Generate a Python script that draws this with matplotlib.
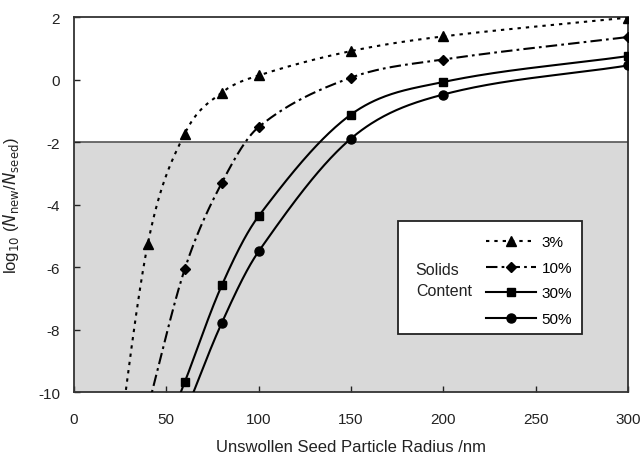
import numpy as np
import matplotlib
matplotlib.use("Agg")
import matplotlib.pyplot as plt
from matplotlib.patches import Rectangle
from matplotlib.lines import Line2D

plt.rcParams['font.family'] = ['Liberation Sans', 'DejaVu Sans']

# ---- data ----
radius_3 = [20, 40, 60, 80, 100, 150, 200, 300]
logN_3 = [-13.5, -5.25, -1.73, -0.42, 0.13, 0.91, 1.38, 1.98]

radius_10 = [40, 60, 80, 100, 150, 200, 300]
logN_10 = [-10.5, -6.06, -3.31, -1.52, 0.06, 0.64, 1.36]

radius_30 = [50, 60, 80, 100, 150, 200, 300]
logN_30 = [-11.2, -9.68, -6.59, -4.37, -1.12, -0.08, 0.75]

radius_50 = [60, 80, 100, 150, 200, 300]
logN_50 = [-10.7, -7.79, -5.50, -1.89, -0.48, 0.45]

labels = ['3%', '10%', '30%', '50%']
threshold = -2
xticks = [0, 50, 100, 150, 200, 250, 300]
yticks = [2, 0, -2, -4, -6, -8, -10]

XLIM = (0, 300)
YLIM = (-10, 2)


def smooth(xs, ys, n=60):
    """Cardinal-type cubic Hermite spline (centred-difference slopes,
    monotonicity-limited) through the data points."""
    x = np.asarray(xs, float)
    y = np.asarray(ys, float)
    h = np.diff(x)
    m = np.diff(y) / h
    d = np.zeros_like(x)
    d[0] = m[0]
    d[-1] = m[-1]
    for k in range(1, len(x) - 1):
        d[k] = (y[k + 1] - y[k - 1]) / (x[k + 1] - x[k - 1])
    for k in range(len(m)):
        if m[k] == 0:
            d[k] = d[k + 1] = 0
            continue
        a, b = d[k] / m[k], d[k + 1] / m[k]
        s = a * a + b * b
        if s > 9:
            t = 3 / np.sqrt(s)
            d[k] = t * a * m[k]
            d[k + 1] = t * b * m[k]
    X, Y = [], []
    for k in range(len(x) - 1):
        t = np.linspace(0, 1, n)
        h00 = 2 * t ** 3 - 3 * t ** 2 + 1
        h10 = t ** 3 - 2 * t ** 2 + t
        h01 = -2 * t ** 3 + 3 * t ** 2
        h11 = t ** 3 - t ** 2
        yy = h00 * y[k] + h10 * h[k] * d[k] + h01 * y[k + 1] + h11 * h[k] * d[k + 1]
        xx = x[k] + t * h[k]
        if k > 0:
            xx, yy = xx[1:], yy[1:]
        X.append(xx)
        Y.append(yy)
    return np.concatenate(X), np.concatenate(Y)


fig = plt.figure(figsize=(6.42, 4.56), dpi=100)
ax = fig.add_axes([0.1153, 0.138, 0.8627, 0.8225])
ax.set_xlim(*XLIM)
ax.set_ylim(*YLIM)

# shaded region below threshold
ax.axhspan(YLIM[0], threshold, facecolor='#d9d9d9', edgecolor='none', zorder=0)
ax.axhline(threshold, color='#555555', lw=1.2, zorder=1)

series = [
    (radius_3, logN_3, (0, (1.6, 2.4)), '^', 7),
    (radius_10, logN_10, (0, (5.5, 2, 1.3, 2)), 'D', 5.5),
    (radius_30, logN_30, '-', 's', 6.3),
    (radius_50, logN_50, '-', 'o', 6.5),
]

handles = []
for (xs, ys, ls, mk, ms), lab in zip(series, labels):
    cx, cy = smooth(xs, ys)
    ax.plot(cx, cy, color='black', lw=1.5, linestyle=ls, zorder=3)
    ax.plot(xs, ys, linestyle='none', marker=mk, color='black', ms=ms, zorder=4)
    handles.append(Line2D([0], [0], color='black', lw=1.5, linestyle=ls, marker=mk, ms=ms))

ax.set_xticks(xticks)
ax.set_yticks(yticks)
ax.set_yticklabels([str(v) for v in yticks])
ax.set_xticklabels([str(v) for v in xticks])
ax.tick_params(direction='in', length=4, width=1, labelsize=11, pad=10, colors='#222222')
ax.tick_params(axis='x', pad=14)
for sp in ax.spines.values():
    sp.set_color('#333333')
    sp.set_linewidth(1.3)

ax.set_xlabel('Unswollen Seed Particle Radius /nm', fontsize=12, labelpad=9.5, color='#222222')
ax.set_ylabel(r'log$_{10}$ ($\mathit{N}_{\rm new}$/$\mathit{N}_{\rm seed}$)', fontsize=12,
              labelpad=12, color='#222222')

# legend frame and text
box = Rectangle((0.5854, 0.1539), 0.331, 0.3013, transform=ax.transAxes, facecolor='white',
                edgecolor='#222222', lw=1.3, zorder=5)
ax.add_patch(box)
ax.text(0.617, 0.299, 'Solids\nContent', transform=ax.transAxes, fontsize=11.5, va='center',
        ha='left', linespacing=1.45, zorder=6, color='#222222')
leg = ax.legend(handles, labels, loc='center left', bbox_to_anchor=(0.7437, 0.297), frameon=False,
                fontsize=11, handlelength=3.3, handletextpad=0.35, labelspacing=0.75,
                numpoints=1, borderpad=0, borderaxespad=0)
leg.set_zorder(7)

fig.savefig('out.png', dpi=100, facecolor='white')
